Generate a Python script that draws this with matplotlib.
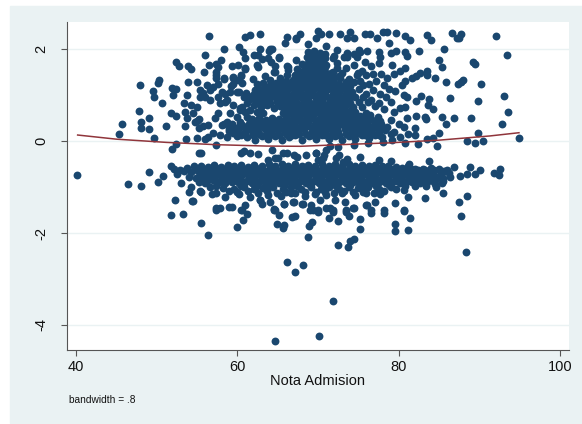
import numpy as np
import matplotlib
matplotlib.use("Agg")
import matplotlib.pyplot as plt

plt.rcParams['font.family'] = ['Liberation Sans', 'DejaVu Sans']
plt.rcParams['axes.unicode_minus'] = False

# values: (nota admision, residual)
left_sparse = [
    (40.1,-.74),(45.3,.15),(45.7,.38),(47.8,.65),(47.9,1.22),(48.1,.41),(48.0,.28),(49.1,.27),(49.1,.49),(49.7,.07),
    (51.2,.33),(49.5,1.09),(49.7,.96),(50.1,1.27),(50.3,1.33),(50.6,.82),(51.8,.6),(52.4,.55),(51.9,1.15),(52.4,1.12),
    (52.0,1.0),(52.4,1.71),(52.8,1.64),(53.9,1.63),(54.3,1.57),(53.9,1.29),(53.8,.99),(53.4,.82),(54.3,.78),(55.0,.75),
    (53.5,.64),(54.5,.6),(53.7,.49),(53.5,.33),(55.0,1.29),(55.0,.44),(54.8,.42),(55.2,.47),(55.2,.28),(55.0,.07),
    (53.6,.04),(51.9,-.18),(52.4,-.07),(55.2,-.25),(55.5,-.25),(56.0,1.86),(56.5,2.28),(56.5,1.65),(55.8,1.49),
    (55.4,1.11),(56.2,1.22),(56.6,1.11),(55.4,.96),(56.0,.96),(56.6,.89),(57.6,.96),(58.1,1.07),(58.7,.89),(59.1,1.07),
    (59.5,1.25),(59.5,.78),(60.3,.67),(59.9,.53),(57.6,.6),(57.2,.49),(56.4,.35),(58.1,.35),(58.7,.42),(57.0,.17),
    (57.8,.13),(58.7,.09),(59.5,.17),(59.1,.28),(60.3,.42),(61.2,.53),(61.6,.67),(61.2,.82),(60.8,.96),(57.4,-.08),
    (56.0,.05),(56.4,.08),(55.7,.32),(57.0,1.18),(55.7,1.05),(57.4,1.43),(57.6,1.61),(58.4,1.36),(59.5,1.4),(60.1,1.32),
    (60.5,1.43),(60.9,1.58),(58.5,1.03),(59.9,1.07),(57.8,.82),(58.5,.85),(60.3,.71),(59.1,.6),(58.3,.38),(58.9,.27),
    (59.5,.2),(60.3,.35),(60.0,.1),(59.3,.38),(59.8,.28),
]
top_sparse = [
    (61.0,2.27),(61.6,2.3),(62.8,2.32),(66.1,2.27),(65.9,2.14),(67.3,2.23),(58.3,2.01),(60.2,2.04),(62.8,2.01),
    (64.3,2.01),(63.9,1.96),(60.7,1.94),(60.9,1.8),(62.0,1.87),(62.6,1.87),(58.0,1.76),(57.4,1.67),(59.3,1.62),
    (60.1,1.65),(60.9,1.57),(57.3,1.51),(57.4,1.36),(57.6,1.25),(58.3,1.35),(59.5,1.36),(60.5,1.41),(61.9,1.34),
    (62.4,1.65),(66.1,1.62),(66.3,1.54),(65.1,1.8),(64.7,1.62),(64.7,1.5),(67.3,1.76),(63.1,1.78),(64.2,1.72),
    (63.4,1.42),(64.0,1.33),(65.3,1.38),(66.0,1.3),(59.2,1.19),(60.6,1.27),(64.0,2.01),(63.8,1.8),(65.1,1.82),(62.6,1.61),
    (66.3,1.61),(66.1,1.43),(64.5,1.5),
    (67.8,2.32),(67.3,2.22),(68.8,2.11),(71.0,2.07),(70.0,2.4),(70.4,2.33),(69.8,2.25),(71.4,2.33),(72.7,2.32),
    (73.6,2.23),(74.0,2.36),(74.4,2.23),(75.8,2.32),(76.4,2.32),(77.3,2.23),(78.0,2.36),(78.6,2.36),(79.6,2.35),
    (80.8,2.28),(81.4,2.2),(78.8,2.12),(72.3,1.98),(73.6,1.92),(74.4,1.66),(75.1,1.98),(76.1,1.96),(77.5,1.94),
    (77.7,1.83),(79.0,1.91),(79.6,1.96),(80.8,1.94),(81.0,1.85),(82.5,1.96),(79.1,1.65),(80.2,1.53),(80.8,1.58),
    (72.0,1.85),(72.4,1.7),(73.2,1.82),(74.8,1.83),(75.8,1.72),(76.6,1.62),(77.6,1.7),(73.5,1.58),(74.9,1.48),
    (75.5,1.52),(76.8,1.45),(77.8,1.45),(78.6,1.38),(79.4,1.45),(72.6,1.42),(73.8,1.35),(75.2,1.3),(76.3,1.25),
    (77.2,1.3),(78.2,1.22),(71.9,1.8),(73.6,1.83),(75.2,1.94),(74.4,1.9),(72.3,1.58),(74.8,1.43),(76.0,1.43),(75.6,1.22),
    (74.4,1.29),(72.7,1.36),(71.9,1.22),
]
right_sparse = [
    (92.0,2.28),(93.4,1.87),(86.6,2.34),(87.7,2.33),(87.2,2.25),(87.5,2.25),(83.5,2.3),(84.0,2.2),(85.6,1.99),
    (85.0,1.76),(85.3,1.6),(89.2,1.71),(89.5,1.67),(84.5,1.36),(85.9,1.28),(87.3,1.25),(87.7,1.29),(88.0,1.33),
    (90.2,1.25),(86.3,.93),(89.8,.86),(93.1,.98),(93.6,.64),(92.8,.36),(88.9,.49),(86.9,.49),(85.4,.53),(85.8,.38),
    (89.8,.18),(85.0,.17),(88.5,0),(89.5,-.04),(90.4,0),(94.9,.07),(84.8,-.1),(84.3,.07),(83.5,.04),(82.4,-.07),
    (80.8,-.05),(82.0,.28),(83.3,.53),(83.4,.48),(82.1,.55),(81.0,.49),(84.3,.7),(83.7,.91),(83.6,.78),(82.7,.97),
    (82.1,.86),(80.8,.75),(80.2,.72),(81.0,.96),(80.6,1.0),(80.8,1.3),(80.4,1.22),(78.8,1.12),(79.5,1.09),(83.5,1.53),
    (83.5,1.43),(82.6,1.47),(82.1,1.41),(81.6,1.36),(79.0,.85),(78.4,.95),(77.6,.82),(77.0,.76),(76.5,.9),(78.2,.7),
    (79.4,.62),(79.0,.45),(80.0,.38),(80.6,.3),(81.2,.16),(82.0,.12),(79.4,.2),(80.2,.08),(77.7,1.02),(76.8,1.1),
    (75.9,1.02),(75.4,.75),(78.0,-.02),(79.2,.02),(76.2,-.05),(74.4,-.09),(72.5,-.12),(71.5,-.1),(75.6,.96),(76.2,.85),
]
dense_upper = [
    (60.4,.12),(61.2,.08),(62.2,.02),(63.0,.1),(63.8,.05),(64.7,.11),(65.5,.02),(66.4,.08),(67.2,.12),(68.0,.03),(68.9,.1),
    (69.7,.05),(70.5,.12),(71.3,.04),(72.1,.1),(73.0,.02),(73.8,.11),(74.6,.05),(75.4,.12),(76.3,.06),(77.1,.13),(77.9,.08),
    (58.9,.22),(60.0,.27),(60.9,.2),(61.7,.24),(62.5,.2),(63.4,.26),(64.2,.2),(65.0,.24),(65.9,.19),(66.7,.25),(67.5,.21),
    (68.3,.26),(69.2,.2),(70.0,.25),(70.9,.19),(71.7,.24),(72.5,.2),(73.3,.26),(74.2,.21),(75.0,.25),(75.8,.2),(76.6,.26),
    (77.5,.2),(78.3,.24),(79.0,.15),(60.6,.34),(61.4,.38),(62.2,.33),(63.0,.37),(63.9,.32),(64.7,.38),(65.5,.34),(66.3,.37),
    (67.1,.32),(68.0,.37),(68.8,.33),(69.6,.38),(70.4,.32),(71.2,.37),(72.0,.33),(72.9,.38),(73.7,.33),(74.5,.37),(75.3,.33),
    (76.1,.37),(77.0,.32),(77.8,.36),(78.5,.3),(61.8,.48),(62.7,.5),(63.5,.46),(64.3,.5),(65.1,.47),(66.0,.51),(66.8,.46),
    (67.6,.5),(68.4,.46),(69.2,.5),(70.1,.47),(70.9,.51),(71.7,.46),(72.5,.5),(73.3,.47),(74.2,.51),(75.0,.46),(75.8,.5),
    (76.6,.47),(77.4,.52),(61.0,.62),(62.4,.62),(63.2,.6),(65.6,.6),(66.4,.63),(67.2,.6),(68.0,.64),(68.9,.6),(69.7,.63),
    (70.5,.6),(71.3,.64),(72.1,.6),(72.9,.63),(73.8,.6),(74.6,.64),(76.0,.6),(60.6,.75),(62.0,.78),(62.9,.74),(63.7,.78),
    (64.5,.72),(65.3,.77),(66.1,.74),(66.9,.78),(67.8,.74),(68.6,.78),(69.4,.74),(70.2,.78),(71.0,.74),(71.9,.78),(72.7,.74),
    (73.5,.78),(74.3,.74),(75.1,.85),(61.5,.92),(62.3,.9),(63.1,.93),(63.9,.89),(64.8,.93),(65.6,.89),(66.4,.93),(67.2,.9),
    (68.0,.94),(68.8,.89),(69.7,.93),(70.5,.9),(71.3,.94),(72.1,.89),(72.9,.93),(73.8,.9),(74.6,.95),(60.2,1.06),(61.1,1.05),
    (62.0,1.03),(62.8,1.06),(63.6,1.02),(64.4,1.06),(65.2,1.03),(66.0,1.07),(66.9,1.03),(67.7,1.06),(68.5,1.02),(69.3,1.06),
    (70.1,1.03),(70.9,1.07),(71.8,1.03),(72.6,1.06),(73.4,1.03),(74.2,1.07),(75.1,1.12),(62.6,1.16),(63.4,1.18),(64.2,1.15),
    (65.0,1.19),(65.8,1.16),(66.6,1.2),(67.4,1.15),(68.2,1.19),(69.1,1.15),(69.9,1.2),(70.7,1.16),(71.5,1.19),(72.3,1.15),
    (73.2,1.2),(65.3,1.28),(66.9,1.32),(67.7,1.28),(68.5,1.32),(69.3,1.28),(70.1,1.32),(70.9,1.28),(71.7,1.32),(67.1,1.44),
    (67.9,1.42),(68.7,1.45),(69.5,1.41),(70.3,1.45),(71.1,1.41),(71.9,1.5),(67.4,1.56),(68.2,1.55),(69.0,1.58),(69.8,1.54),
    (70.6,1.57),(68.0,1.68),(68.8,1.7),(69.6,1.66),(70.4,1.7),(71.0,1.65),(68.6,1.82),(69.3,1.8),(70.1,1.83),(70.8,1.8),
    (68.8,1.93),(69.5,1.95),(70.2,1.92),(70.8,1.9),
]
# second pass over the solid parts of the upper cloud
solid_upper = [
    (60.2,.16),(61.0,.15),(61.9,.13),(62.7,.15),(63.5,.14),(64.3,.15),(65.1,.13),(66.0,.15),(66.8,.14),(67.6,.16),(68.5,.15),
    (69.3,.13),(70.1,.16),(70.9,.13),(71.7,.15),(72.6,.14),(73.4,.16),(74.2,.14),(75.0,.17),(75.8,.13),(76.7,.17),(77.5,.14),
    (60.2,.29),(61.1,.29),(61.9,.28),(62.6,.28),(63.5,.3),(64.3,.29),(65.1,.29),(65.9,.28),(66.7,.3),(67.5,.28),(68.4,.3),
    (69.2,.28),(70.0,.3),(70.8,.27),(71.6,.3),(72.4,.27),(73.3,.3),(74.1,.28),(74.9,.3),(75.7,.27),(76.5,.3),(77.4,.27),
    (78.0,.28),(61.5,.44),(62.3,.42),(63.1,.43),(63.9,.41),(64.7,.44),(65.5,.42),(66.4,.44),(67.2,.41),(68.0,.43),(68.8,.41),
    (69.7,.44),(70.5,.41),(71.3,.43),(72.1,.41),(72.9,.44),(73.7,.41),(74.6,.43),(75.4,.41),(76.2,.43),(77.0,.42),(77.7,.44),
    (66.2,.56),(67.0,.55),(67.8,.57),(68.6,.55),(69.4,.57),(70.3,.55),(71.1,.57),(71.9,.55),(72.7,.56),(73.5,.54),(74.4,.57),
    (75.2,.55),(76.4,.56),(62.4,.84),(63.3,.84),(64.1,.83),(64.9,.85),(65.7,.82),(66.5,.85),(67.4,.82),(68.2,.85),(69.0,.82),
    (69.8,.85),(70.6,.82),(71.5,.85),(72.3,.82),(73.1,.85),(73.9,.83),(65.8,.68),(66.6,.69),(67.4,.68),(68.3,.7),(69.1,.68),
    (69.9,.7),(70.7,.68),(71.6,.7),(72.4,.68),(73.2,.7),(74.1,.68),(61.8,.98),(62.7,.98),(63.5,.97),(64.3,.99),(65.1,.96),
    (66.0,.99),(66.8,.96),(67.6,1.0),(68.4,.97),(69.2,.99),(70.1,.96),(70.9,.99),(71.7,.97),(72.5,.99),(73.3,.97),(74.1,1.0),
    (62.2,1.11),(63.0,1.11),(63.8,1.1),(64.6,1.12),(65.4,1.1),(66.3,1.12),(67.1,1.09),(67.9,1.12),(68.7,1.09),(69.5,1.12),
    (70.3,1.09),(71.2,1.12),(72.0,1.09),(72.8,1.12),(73.6,1.1),(66.3,1.26),(67.2,1.24),(68.0,1.25),(68.9,1.23),(69.7,1.25),
    (70.5,1.23),(71.3,1.25),(72.1,1.24),(67.5,1.37),(68.3,1.38),(69.1,1.36),(69.9,1.38),(70.7,1.36),(71.4,1.38),(67.7,1.5),
    (68.5,1.5),(69.3,1.49),(70.1,1.5),(70.9,1.49),(68.5,1.62),(69.2,1.62),(70.0,1.61),(70.9,1.6),(68.9,1.76),(69.6,1.75),
    (70.4,1.76),(69.0,1.87),(69.7,1.87),(70.5,1.88),(72.6,1.25),(73.4,1.28),(74.0,1.2),(72.0,1.38),(73.0,1.47),(71.6,1.47),
    (62.4,1.25),(63.2,1.27),(64.0,1.22),(64.8,1.27),(65.6,1.22),
]
dense_lower = [
    (52.9,-.62),(53.8,-.58),(54.6,-.55),(55.5,-.54),(56.3,-.56),(57.1,-.53),(58.0,-.56),(58.8,-.52),(59.6,-.55),(60.5,-.53),
    (61.3,-.56),(62.1,-.52),(63.0,-.55),(63.9,-.5),(64.7,-.54),(65.5,-.5),(66.3,-.54),(67.2,-.5),(68.0,-.55),(68.8,-.52),
    (69.6,-.55),(70.5,-.5),(71.3,-.54),(72.1,-.5),(73.0,-.55),(73.8,-.5),(74.6,-.54),(75.4,-.52),(76.3,-.55),(77.1,-.52),
    (77.9,-.55),(78.7,-.54),(79.6,-.56),(80.4,-.58),(81.2,-.55),(82.0,-.6),(83.0,-.6),(84.0,-.58),(85.0,-.6),(86.0,-.63),
    (53.4,-.66),(54.3,-.68),(55.1,-.66),(55.9,-.68),(56.8,-.65),(57.6,-.68),(58.4,-.65),(59.2,-.68),(60.1,-.65),(60.9,-.68),
    (61.7,-.65),(62.5,-.68),(63.4,-.65),(64.2,-.68),(65.0,-.65),(65.9,-.68),(66.7,-.65),(67.5,-.68),(68.4,-.65),(69.2,-.68),
    (70.0,-.65),(70.8,-.68),(71.7,-.65),(72.5,-.68),(73.3,-.65),(74.1,-.68),(75.0,-.65),(75.8,-.68),(76.6,-.65),(77.5,-.68),
    (78.3,-.65),(79.1,-.68),(80.0,-.65),(80.8,-.68),(81.6,-.66),(82.5,-.69),(83.4,-.68),(84.3,-.7),(85.2,-.68),(86.2,-.7),
    (54.0,-.78),(54.9,-.8),(55.6,-.78),(56.4,-.8),(57.2,-.77),(58.1,-.8),(58.9,-.77),(59.7,-.8),(60.5,-.77),(61.4,-.8),
    (62.2,-.77),(63.0,-.8),(63.9,-.77),(64.7,-.8),(65.5,-.77),(66.3,-.8),(67.2,-.77),(68.0,-.8),(68.8,-.77),(69.7,-.8),
    (70.5,-.77),(71.3,-.8),(72.1,-.77),(73.0,-.8),(73.8,-.77),(74.6,-.8),(75.5,-.77),(76.3,-.8),(77.1,-.77),(77.9,-.8),
    (78.8,-.77),(79.6,-.8),(80.4,-.77),(81.3,-.8),(82.1,-.78),(82.9,-.82),(83.8,-.8),(84.6,-.82),(85.5,-.8),(86.4,-.78),
    (55.2,-.9),(56.0,-.92),(57.7,-.9),(58.5,-.92),(59.3,-.9),(60.2,-.92),(61.0,-.9),(61.8,-.92),(62.7,-.9),(63.5,-.92),
    (64.3,-.9),(65.1,-.92),(66.0,-.9),(66.8,-.92),(67.6,-.9),(68.5,-.92),(69.3,-.9),(70.1,-.92),(70.9,-.9),(71.8,-.92),
    (72.6,-.9),(73.4,-.92),(74.3,-.9),(75.1,-.92),(75.9,-.9),(76.7,-.92),(77.6,-.9),(78.4,-.92),(79.2,-.9),(80.1,-.92),
    (81.6,-.9),(82.6,-.92),(83.5,-.9),(84.5,-.93),(85.3,-.92),
    (58.2,-1.02),(59.6,-1.04),(60.8,-1.0),(62.0,-1.05),(63.2,-1.02),(64.4,-1.0),(65.6,-1.04),(66.7,-1.0),(67.9,-1.05),
    (69.1,-1.01),(70.3,-1.04),(71.4,-1.0),(72.6,-1.05),(73.8,-1.01),(75.0,-1.03),(76.2,-1.0),(77.5,-1.04),(79.0,-1.01),
]
# second pass over the solid band
solid_lower = [
    (54.8,-.61),(55.6,-.6),(56.5,-.61),(57.3,-.59),(58.2,-.61),(59.0,-.59),(59.8,-.61),(60.6,-.59),(61.5,-.61),(62.3,-.58),
    (63.1,-.6),(64.0,-.58),(64.8,-.6),(65.6,-.58),(66.5,-.6),(67.3,-.58),(68.1,-.6),(69.0,-.58),(69.8,-.6),(70.6,-.58),
    (71.5,-.6),(72.3,-.58),(73.1,-.6),(74.0,-.58),(74.8,-.6),(75.6,-.58),(76.5,-.6),(77.3,-.58),(78.1,-.6),(79.0,-.6),
    (79.8,-.61),(80.6,-.62),(81.5,-.61),(82.4,-.63),(83.3,-.63),(84.4,-.63),(85.6,-.65),(55.5,-.73),(56.3,-.74),(57.1,-.72),
    (58.0,-.74),(58.8,-.72),(59.6,-.74),(60.5,-.72),(61.3,-.74),(62.1,-.72),(63.0,-.74),(63.8,-.72),(64.6,-.74),(65.5,-.72),
    (66.3,-.74),(67.1,-.72),(68.0,-.74),(68.8,-.72),(69.6,-.74),(70.5,-.72),(71.3,-.74),(72.1,-.72),(73.0,-.74),(73.8,-.72),
    (74.6,-.74),(75.5,-.72),(76.3,-.74),(77.1,-.72),(78.0,-.74),(78.8,-.72),(79.6,-.74),(80.5,-.72),(81.3,-.74),(82.1,-.73),
    (83.0,-.75),(84.0,-.75),(85.0,-.75),(56.2,-.86),(57.0,-.85),(57.8,-.86),(58.7,-.85),(59.5,-.86),(60.3,-.84),(61.2,-.86),
    (62.0,-.84),(62.8,-.86),(63.7,-.84),(64.5,-.86),(65.3,-.84),(66.2,-.86),(67.0,-.84),(67.8,-.86),(68.7,-.84),(69.5,-.86),
    (70.3,-.84),(71.2,-.86),(72.0,-.84),(72.8,-.86),(73.7,-.84),(74.5,-.86),(75.3,-.84),(76.2,-.86),(77.0,-.84),(77.8,-.86),
    (78.7,-.84),(79.5,-.86),(80.4,-.85),(81.2,-.86),(82.2,-.86),(83.2,-.86),(84.2,-.87),(56.6,-1.0),(57.4,-.98),(58.9,-1.09),
    (60.0,-1.1),(61.3,-1.08),(62.6,-1.12),(63.7,-1.08),(64.9,-1.14),(66.0,-1.1),(67.2,-1.12),(68.4,-1.1),(69.7,-1.1),
    (70.9,-1.1),(72.0,-1.13),(73.2,-1.08),(74.3,-1.1),(75.6,-1.1),(76.9,-1.12),(78.2,-1.08),(79.7,-1.04),(80.8,-.98),
    (82.0,-.98),(83.4,-.98),(84.6,-1.0),(60.4,-.97),(62.4,-.98),(64.0,-.97),(65.8,-.97),(67.4,-.98),(69.0,-.96),(70.8,-.97),
    (72.2,-.98),(73.9,-.96),(75.6,-.97),(77.2,-.98),(78.8,-.96),
]
lower_sparse = [
    (46.4,-.93),(48.1,-.97),(49.1,-.68),(50.2,-.89),(50.8,-.75),(51.8,-.55),(52.2,-.6),(52.5,-.72),(53.0,-.91),
    (52.3,-1.28),(54.4,-1.3),(55.4,-1.09),(54.0,-1.1),(54.3,-.99),(57.4,-1.14),(58.5,-1.21),(59.3,-1.43),(57.8,-1.46),
    (61.0,-1.39),(60.5,-1.5),(62.8,-1.28),(64.6,-1.49),(65.8,-1.37),(67.0,-1.32),(60.2,-1.16),(61.6,-1.22),(63.8,-1.18),
    (65.4,-1.2),(66.6,-1.14),(68.4,-1.2),(69.6,-1.16),(71.0,-1.18),(73.0,-1.14),(74.6,-1.18),(76.0,-1.14),
    (87.5,-1.33),(88.5,-1.19),(85.5,-1.12),(83.3,-1.23),(81.1,-1.21),(80.7,-1.5),(79.5,-1.34),(77.1,-1.33),(76.1,-1.39),
    (77.7,-1.16),(80.6,-1.07),(68.0,-1.38),(69.1,-1.39),(70.2,-1.28),(72.1,-1.28),(73.3,-1.32),(74.4,-1.46),(71.5,-1.46),
    (76.6,-1.51),(78.2,-1.51),(69.4,-1.5),(91.8,-.7),(92.4,-.73),(92.6,-.61),(90.1,-.64),(89.5,-.72),(88.5,-.72),(88.8,-.57),
    (87.6,-.76),(86.9,-.57),(85.5,-.88),(83.8,-.43),(81.3,-.49),(79.0,-.44),(77.5,-.41),(75.2,-.35),(68.5,-.3),(69.7,-.25),
    (60.5,-.25),(60.8,-.21),(61.6,-.27),(62.6,-.29),(65.7,-.27),(67.0,-.3),(64.3,-.2),(64.7,-.38),(63.8,-.41),(71.0,-.2),
    (72.6,-.3),(73.6,-.4),(70.6,-.36),(55.5,-1.1),(54.5,-1.3),(56.8,-1.16),(57.3,-1.46),(59.0,-1.43),(62.8,-1.28),(63.1,-1.38),
    (64.0,-1.32),(64.5,-1.48),(65.8,-1.38),(66.9,-1.33),(68.1,-1.38),(69.0,-1.5),(70.0,-1.5),(71.0,-1.46),(71.9,-1.5),
    (73.5,-1.5),(74.3,-1.46),(76.0,-1.39),(66.1,-.27),(67.4,-.34),(69.7,-.27),(70.7,-.3),(70.0,-.41),(72.2,-.38),(73.1,-.45),
    (65.0,-.36),
]
bottom_sparse = [
    (51.8,-1.6),(53.3,-1.59),(55.5,-1.79),(56.3,-2.04),(57.3,-1.5),(60.0,-1.88),(60.7,-1.72),(61.2,-1.59),(60.6,-1.5),
    (64.5,-1.5),(65.2,-1.6),(64.9,-1.8),(65.8,-1.82),(65.7,-1.89),(66.8,-1.65),(67.2,-1.62),(66.1,-2.64),(67.2,-2.84),
    (64.7,-4.34),(68.1,-2.7),(71.85,-3.48),(70.15,-4.23),(68.75,-2.08),(68.9,-1.85),(69.2,-1.77),(71.3,-1.67),(72.5,-1.74),
    (72.5,-2.25),(73.7,-2.31),(74.0,-2.17),(74.5,-2.14),(73.8,-1.62),(75.2,-1.69),(75.2,-1.92),(76.6,-1.56),(78.2,-1.56),
    (79.5,-1.8),(79.5,-1.96),(81.2,-1.93),(81.4,-1.67),(80.7,-1.52),(87.7,-1.62),(88.3,-2.42),(70.0,-1.54),(71.8,-1.54),(73.5,-1.54),
]
clouds = [left_sparse, top_sparse, right_sparse, dense_upper, solid_upper, dense_lower, solid_lower, lower_sparse, bottom_sparse]

# lowess line
smooth_x = [40.2, 45.0, 51.2, 57.4, 63.6, 67.8, 72.7, 78.9, 85.1, 91.3, 94.9]
smooth_y = [0.13, 0.04, -0.03, -0.08, -0.11, -0.115, -0.08, -0.04, 0.02, 0.11, 0.18]

xticks = [40, 60, 80, 100]
yticks = [-4, -2, 0, 2]

bg = '#eaf2f3'
fig = plt.figure(figsize=(5.82, 4.24), dpi=100, facecolor='white')
fig.patches.append(plt.Rectangle((10/582, 1/424), 572/582, 417/424, transform=fig.transFigure, color=bg, zorder=-1))
ax = fig.add_axes([67/582, (424-349.7)/424, (569-67)/582, (349.7-21.5)/424])

points = np.array([p for cloud in clouds for p in cloud])
ax.scatter(points[:, 0], points[:, 1], s=32, color='#1a476f', linewidths=0, zorder=3)
ax.plot(smooth_x, smooth_y, color='#90353b', lw=1.1, zorder=4)

ax.set_xlim(38.88, 101.1)
ax.set_ylim(-4.537, 2.598)
ax.set_xticks(xticks)
ax.set_yticks(yticks)
ax.grid(axis='y', color=bg, lw=1)
ax.set_axisbelow(True)
ax.spines['top'].set_visible(False)
ax.spines['right'].set_visible(False)
ax.spines['left'].set_color('#555555')
ax.spines['bottom'].set_color('#555555')
ax.tick_params(length=4.3, width=0.8, color='#555555', labelsize=10.5, labelcolor='#111111')
ax.tick_params(axis='y', pad=9)
ax.tick_params(axis='x', pad=3)
for lab in ax.get_yticklabels():
    lab.set_rotation(90)
    lab.set_va('center')

ax.set_xlabel('Nota Admision', fontsize=10.5, color='#111111', labelpad=0)
fig.text(69/582, 1-400/424, 'bandwidth = .8', fontsize=7.3, color='#111111', va='center')

fig.savefig('out.png', dpi=100, facecolor=fig.get_facecolor())
